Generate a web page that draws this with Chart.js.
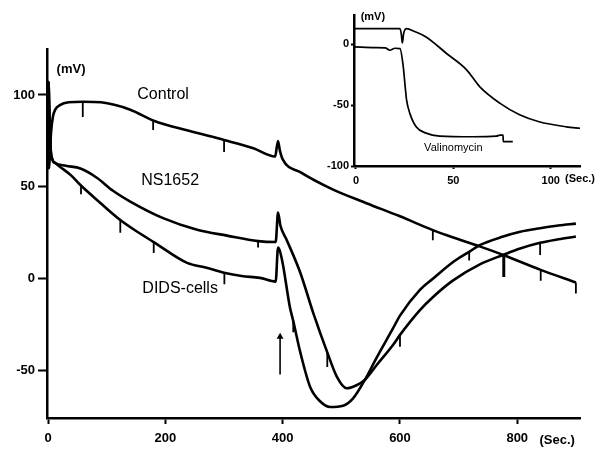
<!DOCTYPE html>
<html>
<head>
<meta charset="utf-8">
<script src="https://cdn.jsdelivr.net/npm/chart.js@4"></script>
<style>
  html, body { margin: 0; padding: 0; background: #fff; }
  #wrap { position: relative; width: 607px; height: 452px; }
  #mainChart { position: absolute; left: 0; top: 0; }
  #insetChart { position: absolute; left: 300px; top: 0; }
</style>
</head>
<body>
<div id="wrap">
  <canvas id="mainChart" width="607" height="452"></canvas>
  <canvas id="insetChart" width="307" height="200"></canvas>
</div>
<script>
// ---- main panel data (time in s, potential in mV) ----
var controlTime = [0, 0.5, 1.5, 3, 5, 8, 12, 20, 35, 60, 90, 140, 180, 240, 300, 350, 387, 392, 395, 400, 430, 486, 544, 600, 656, 700, 737, 776, 839, 900];
var controlMv   = [60, 107, 60, 68, 80, 88, 92, 94.5, 96, 96.3, 96, 92, 86, 80.5, 75.5, 71, 66.5, 75, 70, 65, 58, 48.5, 41, 34, 26.5, 21.5, 17.5, 13, 5, -2];

var ns1652Time = [0, 0.5, 2, 4, 7, 12, 30, 55, 83, 110, 140, 196, 254, 305, 358, 388, 392, 396, 407, 430, 452, 476, 492, 509, 525, 540, 560, 588, 600, 634, 656, 690, 737, 776, 805, 839, 870, 900];
var ns1652Mv   = [60, 107, 92, 72, 65, 63, 61.5, 60, 55, 48, 42, 33, 26.7, 23.5, 20.5, 20, 36, 29, 21, 3.3, -18.5, -40, -53, -59.5, -58, -55, -47, -36, -30.5, -17, -10, -1, 8, 13, 16.5, 19.6, 21.5, 23];

var didsTime = [0, 0.5, 2, 4, 7, 12, 20, 40, 55, 90, 123, 150, 180, 237, 270, 300, 330, 361, 388, 392, 399, 412, 418, 430, 447, 465, 481, 503, 520, 540, 560, 588, 600, 634, 656, 690, 718, 737, 776, 805, 839, 870, 900];
var didsMv   = [60, 107, 92, 72, 65, 63, 61, 56, 51, 41, 32, 26, 20, 8.7, 6, 3.3, 1.5, 0.5, -1.5, 17, 10, -15, -23, -40, -59, -67, -69.7, -69, -65, -55, -43, -27, -20, -6, 0, 9, 14.7, 18.5, 23, 25.6, 27.5, 29, 30];

// short downward artefact spikes on the traces
var spikeTime = [59, 179, 300, 656, 840, 900, 358, 476, 600, 776, 778, 839, 56, 123, 180, 300.5, 418, 718];
var spikeFrom = [96.3, 86, 75.5, 26.5, 5, -2, 20.5, -40, -30.5, 13, 13, 19.6, 51, 32, 20, 3.3, -23, 14.7];
var spikeTo   = [88, 81, 69, 21, -1, -8, 17, -48, -37, 1, 1, 13, 46, 25, 14, -3, -29, 10];

var arrowTime = [395.5, 395.5];
var arrowMv   = [-52, -31.5];

var mainXTicks = [0, 200, 400, 600, 800];
var mainYTicks = [-50, 0, 50, 100];

// ---- inset data ----
var insetCtrlTime = [-1, 10, 22.6, 23.3, 23.8, 24.5, 26, 30, 36, 46.5, 56.8, 63.6, 74, 84, 94, 108, 115];
var insetCtrlMv   = [12.8, 12.8, 12.8, 8, 1, 9, 12.8, 10.5, 6, -7.6, -21, -35, -48.6, -58, -63.7, -67.8, -69];

var valinoTime = [-1, 10, 15, 17.4, 20, 22.6, 24.3, 25.1, 26, 27.7, 31, 36, 43, 60, 72, 74, 75.5, 75.6, 80.5];
var valinoMv   = [-2.2, -2.8, -3, -4.9, -3.3, -3.6, -18.6, -32, -46, -57, -68, -73, -75.4, -76, -75.5, -74.6, -74.6, -80, -80];

var insetXTicks = [0, 50, 100];
var insetYTicks = [-100, -50, 0];

function pts(t, v) {
  return t.map(function (x, i) { return { x: x, y: v[i] } })
}

// each spike is a vertical segment, separated by a gap
function spikePts() {
  var out = []
  spikeTime.forEach(function (t, i) {
    out.push({ x: t, y: spikeFrom[i] }, { x: t, y: spikeTo[i] }, { x: t, y: null })
  })
  return out
}

// draws free text at data coordinates
var textLabels = {
  id: 'textLabels',
  afterDatasetsDraw: function (chart, args, opts) {
    var ctx = chart.ctx
    ctx.save()
    ctx.fillStyle = '#000'
    ctx.textAlign = 'center'
    ctx.textBaseline = 'middle'
    opts.items.forEach(function (it) {
      ctx.font = it.font
      ctx.fillText(it.text, chart.scales.x.getPixelForValue(it.x), chart.scales.y.getPixelForValue(it.y))
    })
    ctx.restore()
  }
}

function axisOpts(min, max, ticks, tickLen, fontSize, fitSize, horizontal, pad) {
  return {
    type: 'linear',
    min: min,
    max: max,
    afterBuildTicks: function (axis) { axis.ticks = ticks.map(function (v) { return { value: v } }) },
    afterFit: function (axis) { if (horizontal) axis.height = fitSize; else axis.width = fitSize },
    border: { display: true, color: '#000', width: 2.5 },
    grid: { drawOnChartArea: false, drawTicks: true, tickLength: tickLen, tickWidth: 2, tickColor: '#000' },
    ticks: {
      color: '#000',
      padding: pad,
      maxRotation: 0,
      autoSkip: false,
      font: { family: 'Arial, "Liberation Sans", sans-serif', size: fontSize, weight: 'bold' }
    }
  }
}

var lineStyle = { borderColor: '#000', backgroundColor: '#000', pointRadius: 0, fill: false, cubicInterpolationMode: 'monotone' }

//-------------
//- MAIN CHART -
//--------------
new Chart(document.getElementById('mainChart'), {
  type: 'line',
  data: {
    datasets: [
      Object.assign({ label: 'Control', data: pts(controlTime, controlMv), borderWidth: 2.6 }, lineStyle),
      Object.assign({ label: 'NS1652', data: pts(ns1652Time, ns1652Mv), borderWidth: 2.6 }, lineStyle),
      Object.assign({ label: 'DIDS-cells', data: pts(didsTime, didsMv), borderWidth: 2.6 }, lineStyle),
      { label: 'spikes', data: spikePts(), borderColor: '#000', borderWidth: 1.8, pointRadius: 0, tension: 0, spanGaps: false },
      { label: 'arrow', data: pts(arrowTime, arrowMv), borderColor: '#000', backgroundColor: '#000', borderWidth: 1.6,
        pointRadius: [0, 4], pointStyle: 'triangle', pointBorderWidth: 0 }
    ]
  },
  options: {
    responsive: false,
    animation: false,
    layout: { padding: { left: 0, right: 27, top: 49, bottom: 0 } },
    plugins: {
      legend: { display: false },
      tooltip: { enabled: false },
      textLabels: {
        items: [
          { text: 'Control', x: 196, y: 100.2, font: '16px Arial, "Liberation Sans", sans-serif' },
          { text: 'NS1652', x: 208, y: 53.4, font: '16px Arial, "Liberation Sans", sans-serif' },
          { text: 'DIDS-cells', x: 225, y: -5.4, font: '16px Arial, "Liberation Sans", sans-serif' },
          { text: '(mV)', x: 39, y: 113.8, font: 'bold 13px Arial, "Liberation Sans", sans-serif' },
          { text: '(Sec.)', x: 868, y: -87.7, font: 'bold 13px Arial, "Liberation Sans", sans-serif' }
        ]
      }
    },
    scales: {
      x: axisOpts(-2, 907, mainXTicks, 6, 13, 34, true, 7),
      y: axisOpts(-75.7, 125, mainYTicks, 9, 13, 47, false, 3)
    }
  },
  plugins: [textLabels]
})

//--------------
//- INSET CHART -
//--------------
new Chart(document.getElementById('insetChart'), {
  type: 'line',
  data: {
    datasets: [
      Object.assign({ label: 'control', data: pts(insetCtrlTime, insetCtrlMv), borderWidth: 1.7 }, lineStyle),
      Object.assign({ label: 'Valinomycin', data: pts(valinoTime, valinoMv), borderWidth: 1.7 }, lineStyle)
    ]
  },
  options: {
    responsive: false,
    animation: false,
    layout: { padding: { left: 0, right: 27, top: 15, bottom: 0 } },
    plugins: {
      legend: { display: false },
      tooltip: { enabled: false },
      textLabels: {
        items: [
          { text: '(mV)', x: 8.7, y: 22, font: 'bold 11px Arial, "Liberation Sans", sans-serif' },
          { text: '(Sec.)', x: 115, y: -110.5, font: 'bold 11px Arial, "Liberation Sans", sans-serif' },
          { text: 'Valinomycin', x: 50, y: -85, font: '11px Arial, "Liberation Sans", sans-serif' }
        ]
      }
    },
    scales: {
      x: axisOpts(-1, 115, insetXTicks, 3, 11, 34, true, 5),
      y: axisOpts(-100, 24, insetYTicks, 3, 11, 54, false, 2)
    }
  },
  plugins: [textLabels]
})
</script>
</body>
</html>
